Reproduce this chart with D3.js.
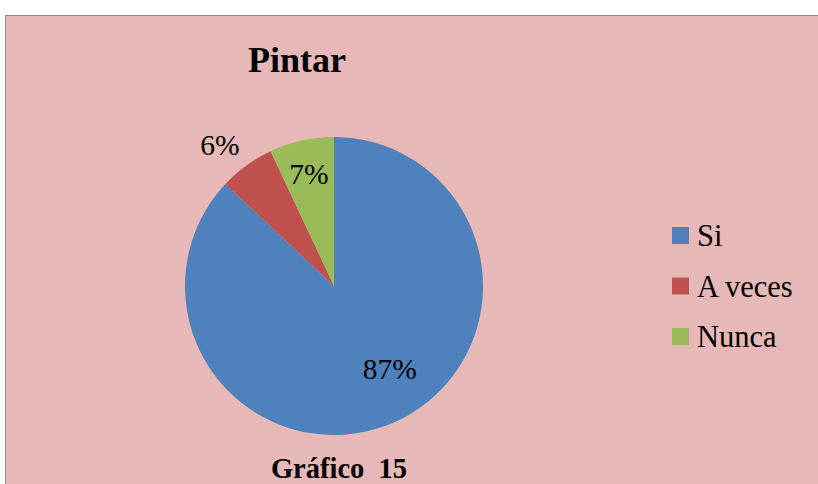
<!DOCTYPE html>
<html><head><meta charset="utf-8">
<script src="https://cdn.jsdelivr.net/npm/d3@7"></script>
<style>body{margin:0;background:#fff;} svg{display:block;} text{font-family:"Liberation Serif","Times New Roman",Tinos,"DejaVu Serif",serif; white-space:pre;}</style>
</head><body>
<svg id="c" width="818" height="484"></svg>
<script>
const categories = ["Si", "A veces", "Nunca"];
const values = [87, 6, 7];
const labels = ["87%", "6%", "7%"];
const colors = ["#4F81BD", "#C0504D", "#9BBB59"];
const title = "Pintar";
const caption = "Gráfico  15";

const svg = d3.select("#c");
svg.append("rect").attr("x", 5.5).attr("y", 15.5).attr("width", 830).attr("height", 500)
  .attr("fill", "#E6B8B7").attr("stroke", "#8C8C8C").attr("stroke-width", 1);

svg.append("text").attr("x", 297).attr("y", 72).attr("text-anchor", "middle")
  .style("font-weight", "bold").style("font-size", "36px").text(title);

const cx = 334, cy = 286, r = 149;
const pie = d3.pie().sort(null).value(d => d)(values);
const arc = d3.arc().innerRadius(0).outerRadius(r);
const g = svg.append("g").attr("transform", `translate(${cx},${cy})`);
g.selectAll("path").data(pie).enter().append("path")
  .attr("d", arc).attr("fill", (d, i) => colors[i]);

// label placement: radius along bisector plus small nudges (layout, not data)
const labelRadius = [100, 184, 115];
const nudge = [[16, -9], [-6, 8], [0, 0]];
g.selectAll("text.lbl").data(pie).enter().append("text")
  .attr("class", "lbl")
  .attr("transform", (d, i) => {
    const a = (d.startAngle + d.endAngle) / 2;
    const rr = labelRadius[i];
    return `translate(${Math.sin(a) * rr + nudge[i][0]},${-Math.cos(a) * rr + nudge[i][1]})`;
  })
  .attr("text-anchor", "middle").attr("dy", "0.35em")
  .style("font-size", "29.5px")
  .text((d, i) => labels[i]);

const leg = svg.append("g").attr("transform", "translate(672,0)");
const ly = d3.scalePoint().domain(categories).range([235.5, 336.5]);
categories.forEach((c, i) => {
  leg.append("rect").attr("x", 0).attr("y", ly(c) - 8.5).attr("width", 17).attr("height", 17).attr("fill", colors[i]);
  leg.append("text").attr("x", 25).attr("y", ly(c) + 10.5)
    .style("font-size", "30.5px").text(c);
});

svg.append("text").attr("x", 339).attr("y", 478).attr("text-anchor", "middle")
  .style("font-weight", "bold").style("font-size", "28.5px").text(caption);
</script>
</body></html>
